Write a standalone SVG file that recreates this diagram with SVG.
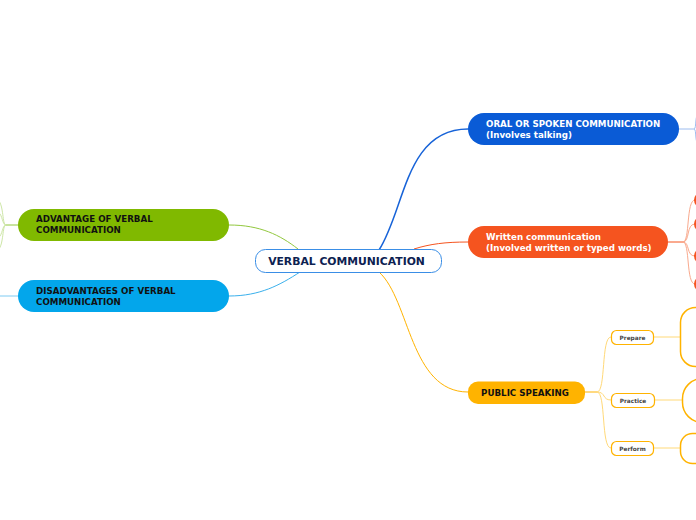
<svg xmlns="http://www.w3.org/2000/svg" width="696" height="520" viewBox="0 0 696 520">
<style>
text{font-family:"DejaVu Sans","Verdana",sans-serif;font-weight:bold}
.t{font-size:8.7px}
.w{fill:#ffffff}
.k{fill:#111111}
.sm{font-size:5.8px;fill:#444444;text-anchor:middle}
.c{fill:none}
</style>
<rect width="696" height="520" fill="#ffffff"/>
<g id="connectors" class="c">
<path d="M379,250 C405,210 405,129 468,129" stroke="#1763d8" stroke-width="1.5"/>
<path d="M414,249 C430,244 445,242 468,242" stroke="#f5541f" stroke-width="1"/>
<path d="M298,249 C280,235 260,225 229,225" stroke="#92c83e" stroke-width="1"/>
<path d="M300,272 C280,285 260,296 229,296" stroke="#3ab0ec" stroke-width="1"/>
<path d="M379,272 C410,300 410,392 468,392" stroke="#ffb300" stroke-width="1"/>
<path d="M679,129 L694,129 M694,129 C697,129 694,113 700,113 M694,129 C697,129 694,145 700,145" stroke="#9cbcef" stroke-width="1"/>
<path d="M668,242 L683,242" stroke="#f5541f" stroke-width="1"/>
<path d="M683,242 C690,242 686,200 695,200 M683,242 C690,242 686,224 695,224 M683,242 C690,242 686,256 695,256 M683,242 C690,242 686,284 695,284" stroke="#f9a98d" stroke-width="1"/>
<path d="M18,225 L6,225" stroke="#92c83e" stroke-width="1"/>
<path d="M6,225 C2,225 4,205 -2,200 M6,225 C2,225 3,215 -2,212 M6,225 C2,225 3,235 -2,238 M6,225 C2,225 4,245 -2,250" stroke="#cde6a6" stroke-width="1"/>
<path d="M18,296 L0,296" stroke="#7fcbf2" stroke-width="1"/>
<path d="M585,392 L597,392" stroke="#ffb300" stroke-width="1"/>
<path d="M597,392 C606,392 601,337 611,337 M597,392 C606,392 602,400 611,400 M597,392 C606,392 601,448 611,448" stroke="#ffd978" stroke-width="1"/>
<path d="M654,337 L680,337 M655,400 L682,400 M654,448 L680,448" stroke="#ffd978" stroke-width="1"/>
</g>
<g id="central">
<rect x="255.5" y="249.5" width="186" height="23" rx="10" fill="#ffffff" stroke="#3a8ee6" stroke-width="1"/>
<text x="346.5" y="264.5" font-size="10.8" fill="#0d2151" text-anchor="middle">VERBAL COMMUNICATION</text>
</g>
<g id="oral">
<rect x="468" y="113" width="211" height="32" rx="16" fill="#0a5bd6"/>
<text class="t w" x="486" y="127">ORAL OR SPOKEN COMMUNICATION</text>
<text class="t w" x="486" y="138">(Involves talking)</text>
</g>
<g id="written">
<rect x="468" y="226" width="200" height="32" rx="16" fill="#f5541f"/>
<text class="t w" x="486" y="240">Written communication</text>
<text class="t w" x="486" y="251">(Involved written or typed words)</text>
</g>
<g id="written-children">
<rect x="694" y="192" width="30" height="16" rx="8" fill="#f5541f"/>
<rect x="694" y="216" width="30" height="16" rx="8" fill="#f5541f"/>
<rect x="694" y="248" width="30" height="16" rx="8" fill="#f5541f"/>
<rect x="694" y="276" width="30" height="16" rx="8" fill="#f5541f"/>
</g>
<g id="advantage">
<rect x="18" y="209" width="211" height="32" rx="16" fill="#80b900"/>
<text class="t k" x="36" y="222">ADVANTAGE OF VERBAL</text>
<text class="t k" x="36" y="233">COMMUNICATION</text>
</g>
<g id="disadvantages">
<rect x="18" y="280" width="211" height="32" rx="16" fill="#03a6eb"/>
<text class="t k" x="36" y="294">DISADVANTAGES OF VERBAL</text>
<text class="t k" x="36" y="305">COMMUNICATION</text>
</g>
<g id="public">
<rect x="468" y="381.5" width="117" height="22.5" rx="10" fill="#ffb300"/>
<text x="525" y="396" font-size="8.7" fill="#111111" text-anchor="middle">PUBLIC SPEAKING</text>
</g>
<g id="prepare">
<rect x="611.5" y="330.5" width="42" height="14" rx="5" fill="#ffffff" stroke="#ffb300" stroke-width="1.2"/>
<text class="sm" x="632.5" y="339.5">Prepare</text>
</g>
<g id="practice">
<rect x="611.5" y="393.5" width="43" height="14" rx="5" fill="#ffffff" stroke="#ffb300" stroke-width="1.2"/>
<text class="sm" x="633" y="402.5">Practice</text>
</g>
<g id="perform">
<rect x="611.5" y="441.5" width="42" height="14" rx="5" fill="#ffffff" stroke="#ffb300" stroke-width="1.2"/>
<text class="sm" x="632.5" y="450.5">Perform</text>
</g>
<g id="prepare-child">
<rect x="680.5" y="307.5" width="60" height="59" rx="15" fill="#ffffff" stroke="#ffb300" stroke-width="1.5"/>
</g>
<g id="practice-child">
<rect x="682.5" y="378.5" width="60" height="44" rx="20" fill="#ffffff" stroke="#ffb300" stroke-width="1.5"/>
</g>
<g id="perform-child">
<rect x="680.5" y="433.5" width="60" height="30" rx="12" fill="#ffffff" stroke="#ffb300" stroke-width="1.5"/>
</g>
</svg>
